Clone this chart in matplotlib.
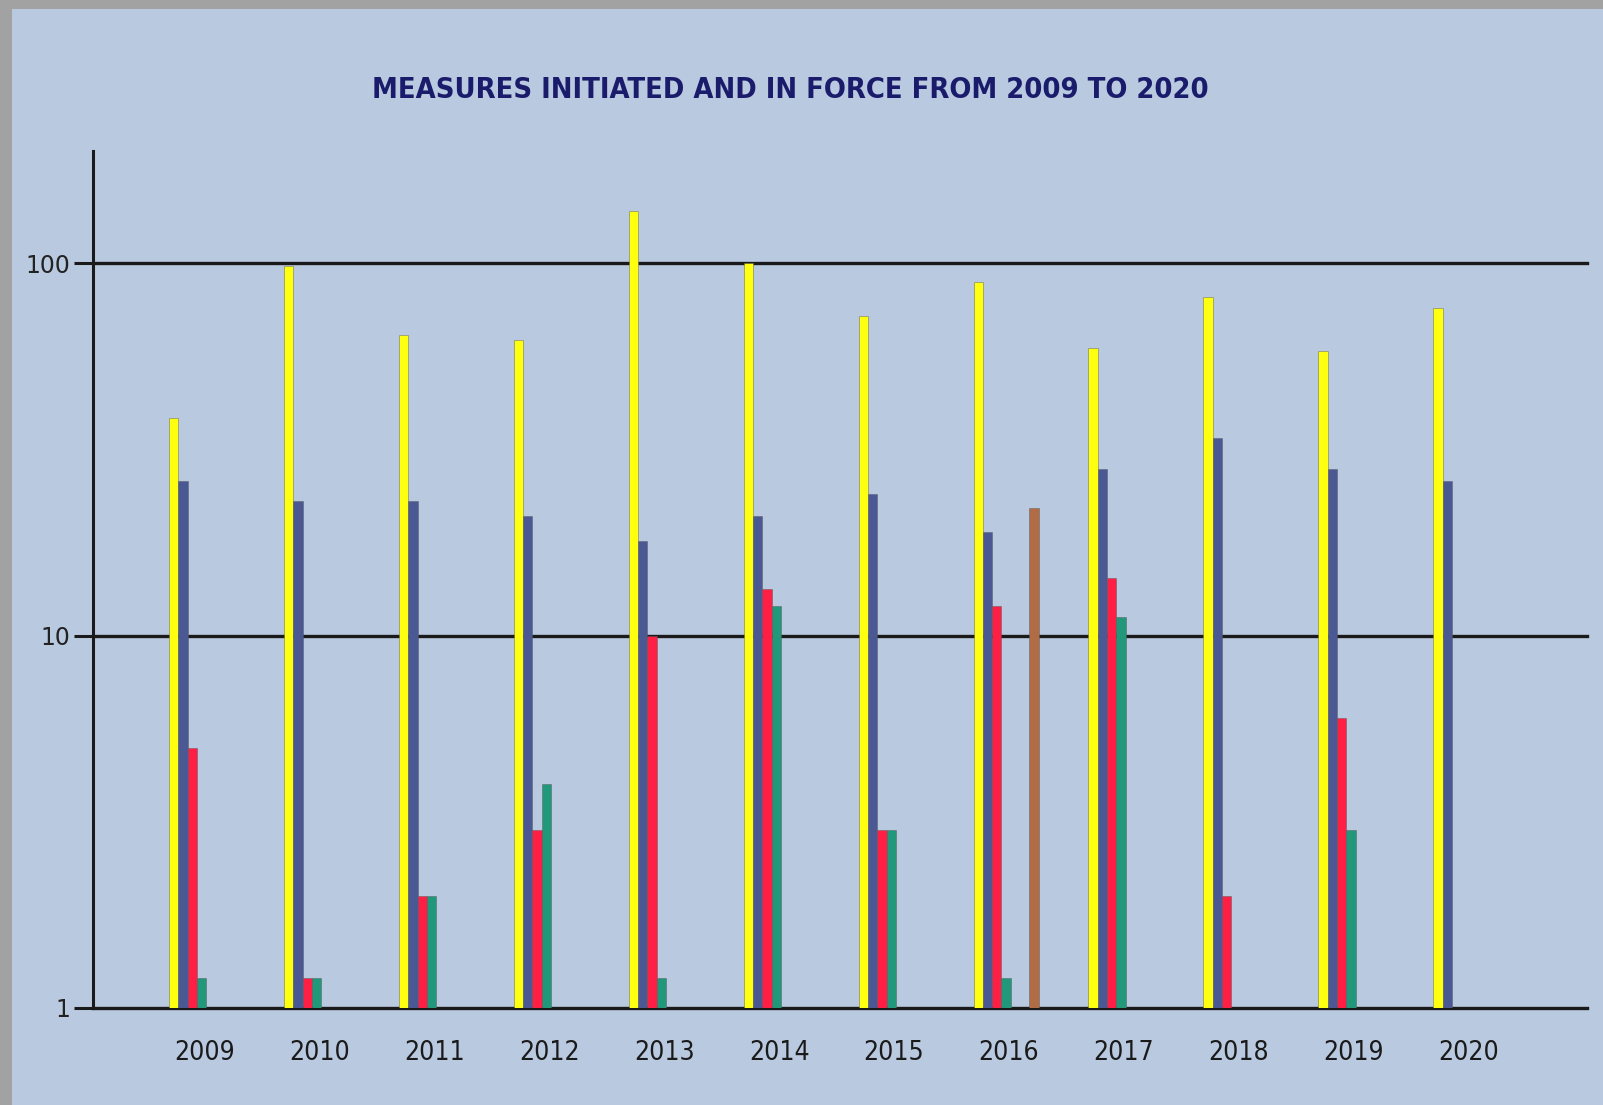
import matplotlib
matplotlib.use("Agg")
import matplotlib.pyplot as plt
import numpy as np
from matplotlib.patches import Rectangle
from matplotlib.ticker import NullLocator

# values (log scale)
years = ['2009', '2010', '2011', '2012', '2013', '2014', '2015', '2016', '2017', '2018', '2019', '2020']
yellow = [38.5, 98, 64, 62, 138, 100, 72, 89, 59, 81, 58, 76]
blue = [26, 23, 23, 21, 18, 21, 24, 19, 28, 34, 28, 26]
red = [5, 1.2, 2, 3, 10, 13.3, 3, 12, 14.3, 2, 6, np.nan]
green = [1.2, 1.2, 2, 4, 1.2, 12, 3, 1.2, 11.2, np.nan, 3, np.nan]
brown = [np.nan] * 7 + [22] + [np.nan] * 4

series = [(yellow, '#ffff10', 0), (blue, '#4a5994', 1), (red, '#ff1f45', 2),
          (green, '#21987a', 3), (brown, '#b06c45', 6)]

fig = plt.figure(figsize=(16.03, 11.05), dpi=100)
fig.patch.set_facecolor('#a2a2a2')
fig.add_artist(Rectangle((12 / 1603, 0), 1, 1 - 9 / 1105, transform=fig.transFigure,
                         facecolor='#b9c9e0', edgecolor='none', zorder=0))

ax = fig.add_axes([0.058, 0.0878, 0.932, 0.7755])
ax.set_facecolor('none')

x = np.arange(len(years))
w = 0.081
for vals, col, slot in series:
    ax.bar(x + (slot - 3.3) * w, np.array(vals, dtype=float) - 1, bottom=1, width=w,
           color=col, edgecolor='#55555580', linewidth=0.6, zorder=3)

ax.set_yscale('log')
ax.set_ylim(1, 200)
ax.set_xlim(-0.97, 12.03)
for v in [1, 10, 100]:
    ax.axhline(v, color='#1a1a1a', lw=2.4, zorder=1, clip_on=False)

ax.set_yticks([1, 10, 100])
ax.set_yticklabels(['1', '10', '100'])
ax.yaxis.set_minor_locator(NullLocator())
ax.tick_params(axis='y', length=13.5, width=2.2, color='#1a1a1a', pad=3,
               labelsize=17, labelcolor='#222222')

ax.set_xticks(x)
ax.set_xticklabels(years, fontstretch='condensed')
ax.tick_params(axis='x', length=0, pad=23, labelsize=19, labelcolor='#1a1a1a')

for s in ['top', 'right', 'bottom']:
    ax.spines[s].set_visible(False)
ax.spines['left'].set_color('#1a1a1a')
ax.spines['left'].set_linewidth(2.2)

fig.text(790 / 1603, 1 - 90 / 1105, 'MEASURES INITIATED AND IN FORCE FROM 2009 TO 2020',
         ha='center', va='center', fontsize=20.8, fontweight='bold',
         fontstretch='condensed', color='#1b1b6b')

plt.savefig('out.png', dpi=100, facecolor=fig.get_facecolor())
